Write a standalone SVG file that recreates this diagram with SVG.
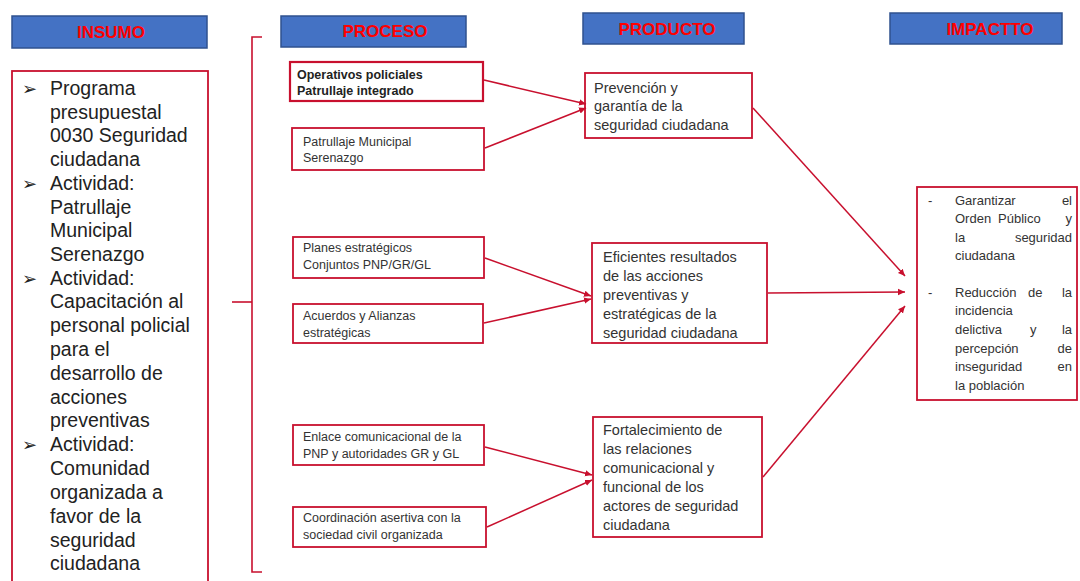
<svg xmlns="http://www.w3.org/2000/svg" width="1080" height="581" viewBox="0 0 1080 581">
<defs>
<style>
.hdr{fill:#4472C4;stroke:#2F528F;stroke-width:1.5}
.ht{font-family:"Liberation Sans",Arial,sans-serif;font-weight:bold;font-size:17px;fill:#FF0000;text-anchor:middle}
.box{fill:#FFFFFF;stroke:#C8102E;stroke-width:1.8}
.t1{font-family:"Liberation Sans",Arial,sans-serif;font-size:19.5px;fill:#222222}
.bul{font-family:"DejaVu Sans",sans-serif;font-size:18px;fill:#222222}
.tp{font-family:"Liberation Sans",Arial,sans-serif;font-size:12.5px;fill:#333333}
.tpb{font-family:"Liberation Sans",Arial,sans-serif;font-size:12.5px;font-weight:bold;fill:#222222}
.tr{font-family:"Liberation Sans",Arial,sans-serif;font-size:14.5px;fill:#333333}
.ti{font-family:"Liberation Sans",Arial,sans-serif;font-size:13px;fill:#333333}
.ln{fill:none;stroke:#C8102E;stroke-width:1.6}
.conn{fill:none;stroke:#C8102E;stroke-width:1.5;marker-end:url(#ah)}
</style>
<marker id="ah" markerWidth="8" markerHeight="8" refX="7" refY="4" orient="auto" markerUnits="userSpaceOnUse">
<path d="M0,0.8 L7,4 L0,7.2 Z" fill="#C8102E"/>
</marker>
</defs>
<rect width="1080" height="581" fill="#FFFFFF"/>

<g id="headers">
<g id="h-insumo"><rect class="hdr" x="12" y="16" width="195" height="32"/><text class="ht" x="111" y="38">INSUMO</text></g>
<g id="h-proceso"><rect class="hdr" x="281" y="16" width="185" height="31"/><text class="ht" x="385" y="37">PROCESO</text></g>
<g id="h-producto"><rect class="hdr" x="583" y="13" width="161" height="31"/><text class="ht" x="667" y="35">PRODUCTO</text></g>
<g id="h-impacto"><rect class="hdr" x="890" y="13" width="172" height="31"/><text class="ht" x="990" y="35">IMPACTTO</text></g>
</g>

<g id="insumo">
<rect class="box" x="12" y="71" width="196" height="520"/>
<text class="bul" x="22" y="95">➢</text>
<text class="bul" x="22" y="190">➢</text>
<text class="bul" x="22" y="285">➢</text>
<text class="bul" x="22" y="451">➢</text>
<text class="t1" x="50">
<tspan x="50" y="95">Programa</tspan>
<tspan x="50" y="119">presupuestal</tspan>
<tspan x="50" y="142">0030 Seguridad</tspan>
<tspan x="50" y="166">ciudadana</tspan>
<tspan x="50" y="190">Actividad:</tspan>
<tspan x="50" y="214">Patrullaje</tspan>
<tspan x="50" y="237">Municipal</tspan>
<tspan x="50" y="261">Serenazgo</tspan>
<tspan x="50" y="285">Actividad:</tspan>
<tspan x="50" y="308">Capacitación al</tspan>
<tspan x="50" y="332">personal policial</tspan>
<tspan x="50" y="356">para el</tspan>
<tspan x="50" y="380">desarrollo de</tspan>
<tspan x="50" y="404">acciones</tspan>
<tspan x="50" y="427">preventivas</tspan>
<tspan x="50" y="451">Actividad:</tspan>
<tspan x="50" y="475">Comunidad</tspan>
<tspan x="50" y="499">organizada a</tspan>
<tspan x="50" y="523">favor de la</tspan>
<tspan x="50" y="547">seguridad</tspan>
<tspan x="50" y="570">ciudadana</tspan>
</text>
</g>

<g id="bracket">
<path class="ln" d="M262,37 L252,37 L252,572 L262,572"/>
<path class="ln" d="M232,302 L252,302"/>
</g>

<g id="p1"><rect class="box" x="290" y="62" width="193" height="39" style="stroke-width:2.2"/>
<text class="tpb"><tspan x="297" y="79">Operativos policiales</tspan><tspan x="297" y="95">Patrullaje integrado</tspan></text></g>
<g id="p2"><rect class="box" x="292" y="128" width="192" height="42"/>
<text class="tp"><tspan x="303" y="146">Patrullaje Municipal</tspan><tspan x="303" y="162">Serenazgo</tspan></text></g>
<g id="p3"><rect class="box" x="293" y="237" width="191" height="41"/>
<text class="tp"><tspan x="303" y="252">Planes estratégicos</tspan><tspan x="303" y="269">Conjuntos PNP/GR/GL</tspan></text></g>
<g id="p4"><rect class="box" x="293" y="304" width="190" height="39"/>
<text class="tp"><tspan x="303" y="320">Acuerdos y Alianzas</tspan><tspan x="303" y="337">estratégicas</tspan></text></g>
<g id="p5"><rect class="box" x="293" y="425" width="191" height="40"/>
<text class="tp"><tspan x="303" y="441">Enlace comunicacional de la</tspan><tspan x="303" y="458">PNP y autoridades GR y GL</tspan></text></g>
<g id="p6"><rect class="box" x="293" y="507" width="193" height="40"/>
<text class="tp"><tspan x="303" y="522">Coordinación asertiva con la</tspan><tspan x="303" y="539">sociedad civil organizada</tspan></text></g>

<g id="r1"><rect class="box" x="585" y="73" width="167" height="65"/>
<text class="tr"><tspan x="594" y="93">Prevención y</tspan><tspan x="594" y="111">garantía de la</tspan><tspan x="594" y="130">seguridad ciudadana</tspan></text></g>
<g id="r2"><rect class="box" x="592" y="243" width="175" height="100"/>
<text class="tr"><tspan x="603" y="262">Eficientes resultados</tspan><tspan x="603" y="281">de las acciones</tspan><tspan x="603" y="300">preventivas y</tspan><tspan x="603" y="319">estratégicas de la</tspan><tspan x="603" y="338">seguridad ciudadana</tspan></text></g>
<g id="r3"><rect class="box" x="593" y="417" width="169" height="120"/>
<text class="tr"><tspan x="603" y="435">Fortalecimiento de</tspan><tspan x="603" y="454">las relaciones</tspan><tspan x="603" y="473">comunicacional y</tspan><tspan x="603" y="492">funcional de los</tspan><tspan x="603" y="511">actores de seguridad</tspan><tspan x="603" y="530">ciudadana</tspan></text></g>

<g id="impacto"><rect class="box" x="917" y="187" width="160" height="213"/>
<text class="ti" x="928" y="205">-</text>
<text class="ti" x="955" y="205">Garantizar</text><text class="ti" x="1072" y="205" text-anchor="end">el</text>
<text class="ti" x="955" y="223">Orden</text><text class="ti" x="998" y="223">Público</text><text class="ti" x="1072" y="223" text-anchor="end">y</text>
<text class="ti" x="955" y="242">la</text><text class="ti" x="1072" y="242" text-anchor="end">seguridad</text>
<text class="ti" x="955" y="260">ciudadana</text>
<text class="ti" x="928" y="297">-</text>
<text class="ti" x="955" y="297">Reducción</text><text class="ti" x="1028" y="297">de</text><text class="ti" x="1072" y="297" text-anchor="end">la</text>
<text class="ti" x="955" y="315">incidencia</text>
<text class="ti" x="955" y="334">delictiva</text><text class="ti" x="1030" y="334">y</text><text class="ti" x="1072" y="334" text-anchor="end">la</text>
<text class="ti" x="955" y="353">percepción</text><text class="ti" x="1072" y="353" text-anchor="end">de</text>
<text class="ti" x="955" y="371">inseguridad</text><text class="ti" x="1072" y="371" text-anchor="end">en</text>
<text class="ti" x="955" y="390">la población</text>
</g>

<g id="connectors">
<path class="conn" d="M484,80 L586,104"/>
<path class="conn" d="M485,148 L586,108"/>
<path class="conn" d="M485,258 L591,296"/>
<path class="conn" d="M484,323 L591,299"/>
<path class="conn" d="M485,447 L592,475"/>
<path class="conn" d="M487,527 L592,480"/>
<path class="conn" d="M753,108 L905,276"/>
<path class="conn" d="M768,293 L905,292"/>
<path class="conn" d="M763,477 L905,306"/>
</g>
</svg>
